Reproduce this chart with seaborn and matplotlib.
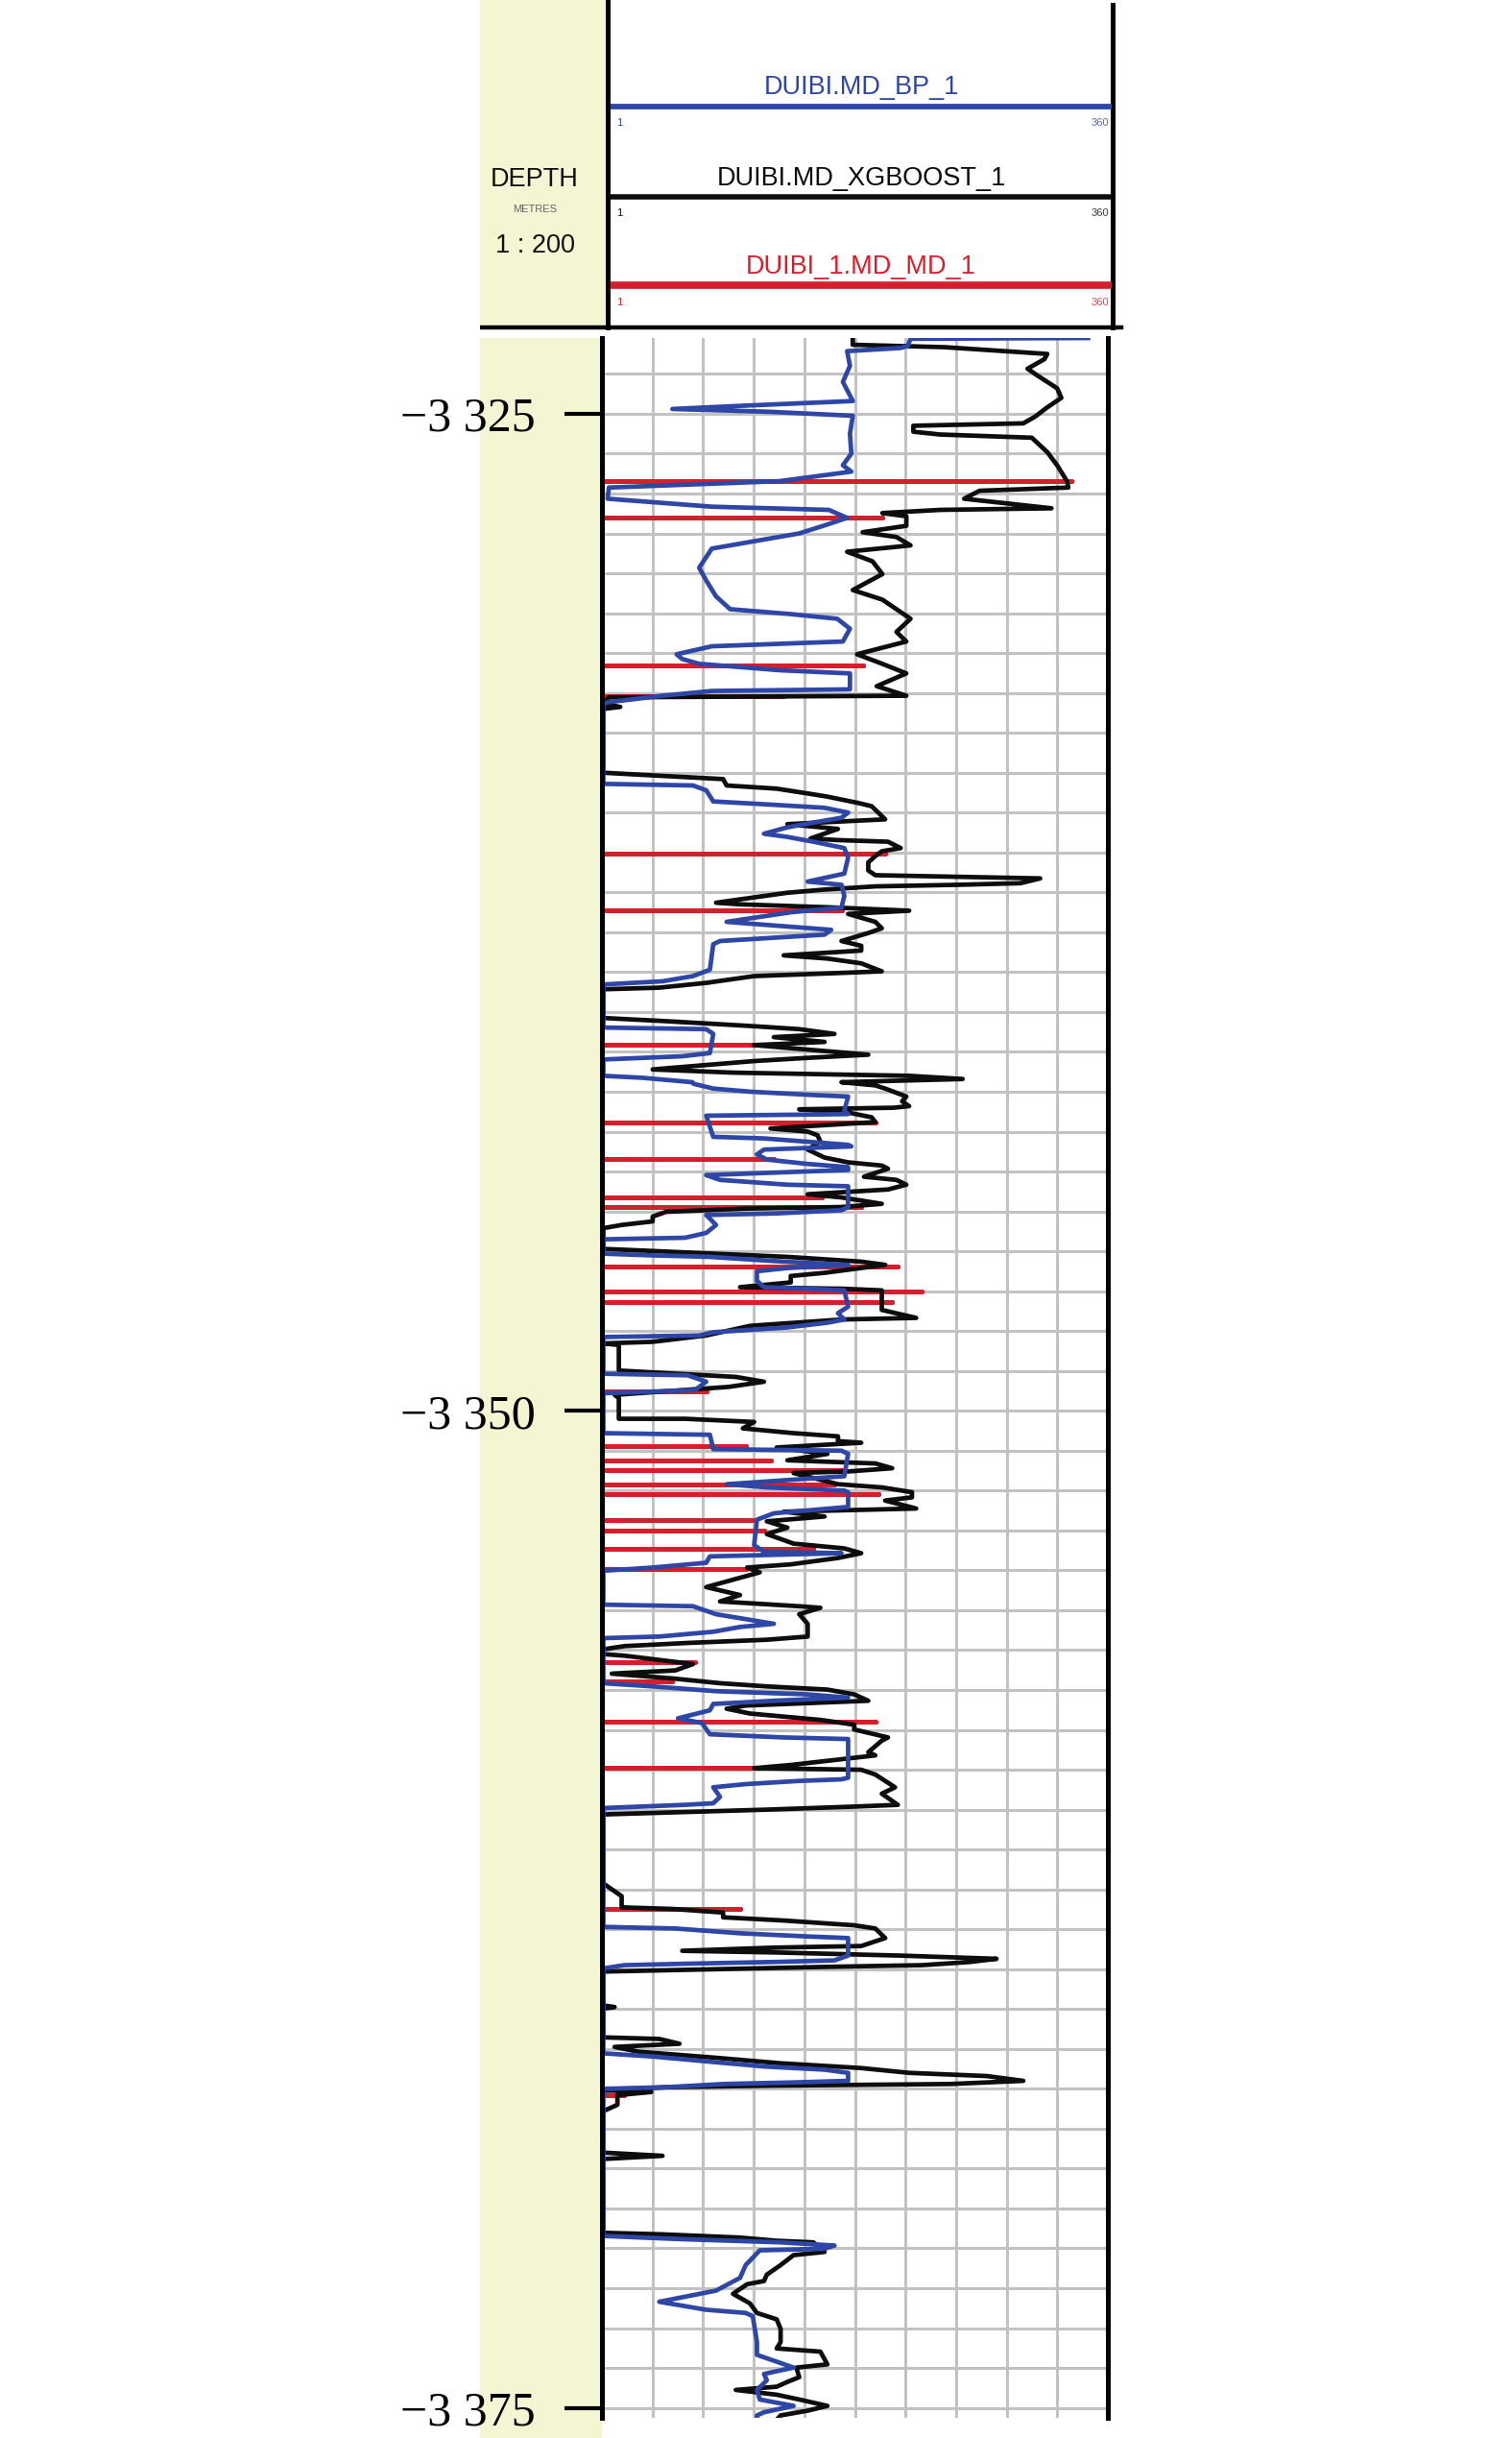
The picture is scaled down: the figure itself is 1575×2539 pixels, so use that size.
import numpy as np
import pandas as pd
import seaborn as sns
import matplotlib
matplotlib.use("Agg")
import matplotlib.pyplot as plt
from matplotlib.patches import Rectangle
from matplotlib.ticker import MultipleLocator
from matplotlib import font_manager

# ---- data: (depth in m, value on the 1..360 scale) ----
bp_curve = [
    (-3323.1, 346), (-3323.12, 220), (-3323.3, 218), (-3323.35, 213), (-3323.43, 175), (-3323.8, 177),
    (-3324.2, 172), (-3324.68, 179), (-3324.8, 100), (-3324.88, 51), (-3324.95, 120), (-3325.05, 179),
    (-3325.5, 177), (-3326.0, 178), (-3326.29, 172), (-3326.45, 178), (-3326.69, 127), (-3326.85, 6),
    (-3327.13, 5), (-3327.33, 79), (-3327.41, 162), (-3327.61, 175), (-3327.81, 158), (-3328.0, 141),
    (-3328.38, 79), (-3328.86, 70), (-3329.18, 75), (-3329.58, 82), (-3329.9, 92), (-3330.02, 134),
    (-3330.14, 168), (-3330.39, 177), (-3330.71, 172), (-3330.83, 79), (-3331.03, 54), (-3331.15, 58),
    (-3331.27, 70), (-3331.43, 127), (-3331.51, 177), (-3331.91, 177), (-3331.95, 79), (-3332.07, 44),
    (-3332.23, 6), (-3332.27, 2),
    (-3334.28, 2), (-3334.32, 65.6), (-3334.44, 75), (-3334.72, 80), (-3334.8, 120.6), (-3334.88, 159),
    (-3335.0, 175.7), (-3335.13, 171), (-3335.25, 151), (-3335.37, 132.6), (-3335.53, 116), (-3335.61, 132.6),
    (-3335.73, 151), (-3335.89, 173), (-3336.13, 175.7), (-3336.53, 173), (-3336.73, 147), (-3336.81, 171),
    (-3337.09, 173), (-3337.38, 171), (-3337.5, 135), (-3337.74, 89.5), (-3337.94, 163.7), (-3338.06, 159),
    (-3338.22, 84.8), (-3338.3, 80), (-3338.94, 77.6), (-3339.1, 65.6), (-3339.23, 44), (-3339.31, 2),
    (-3340.39, 2), (-3340.43, 75), (-3340.55, 80), (-3341.03, 77.6), (-3341.11, 58), (-3341.19, 2),
    (-3341.6, 2), (-3341.65, 30), (-3341.76, 65), (-3341.8, 66), (-3341.92, 80), (-3342.0, 107),
    (-3342.08, 150), (-3342.12, 175.7), (-3342.48, 173), (-3342.56, 175.7), (-3342.6, 75), (-3343.13, 80),
    (-3343.17, 116), (-3343.33, 175.7), (-3343.37, 178), (-3343.45, 116), (-3343.57, 111), (-3343.7, 118),
    (-3343.81, 147), (-3343.89, 175.7), (-3343.96, 175.7), (-3344.05, 106), (-3344.09, 75), (-3344.21, 84.8),
    (-3344.33, 132.6), (-3344.37, 175.7), (-3344.89, 175.7), (-3344.97, 171), (-3345.05, 125), (-3345.09, 75),
    (-3345.34, 82), (-3345.54, 75), (-3345.66, 60), (-3345.7, 2), (-3346.06, 2), (-3346.1, 34),
    (-3346.14, 77.6), (-3346.26, 130), (-3346.34, 175.7), (-3346.42, 132.6), (-3346.5, 111), (-3346.74, 111),
    (-3346.9, 116), (-3346.94, 147), (-3346.98, 173), (-3347.39, 175.7), (-3347.55, 168.5), (-3347.71, 173),
    (-3347.79, 161), (-3347.91, 132.6), (-3348.03, 80), (-3348.11, 70), (-3348.15, 2),
    (-3349.07, 2), (-3349.11, 62), (-3349.27, 75), (-3349.48, 67), (-3349.52, 34), (-3349.56, 2),
    (-3350.56, 2), (-3350.6, 77.6), (-3350.96, 80), (-3351.0, 171), (-3351.08, 175.7), (-3351.64, 173),
    (-3351.76, 123), (-3351.84, 89.5), (-3351.92, 118), (-3352.0, 173), (-3352.04, 175.7), (-3352.41, 175.7),
    (-3352.57, 123), (-3352.73, 111), (-3353.37, 109), (-3353.53, 116), (-3353.57, 171), (-3353.65, 77.6),
    (-3353.81, 75), (-3353.93, 37), (-3354.01, 2), (-3354.86, 2), (-3354.9, 65.6), (-3355.1, 82),
    (-3355.34, 123), (-3355.42, 99), (-3355.54, 80), (-3355.66, 41.7), (-3355.7, 2), (-3356.83, 2),
    (-3356.91, 37), (-3357.03, 82), (-3357.11, 147), (-3357.19, 175.7), (-3357.27, 123), (-3357.35, 80),
    (-3357.51, 77.6), (-3357.71, 55), (-3357.83, 72), (-3358.11, 77.6), (-3358.19, 130), (-3358.23, 175.7),
    (-3358.55, 175.7), (-3359.2, 175.7), (-3359.24, 171), (-3359.28, 141), (-3359.36, 103), (-3359.44, 80),
    (-3359.68, 84.8), (-3359.84, 80), (-3359.88, 60), (-3359.96, 2), (-3362.94, 2), (-3362.98, 53),
    (-3363.1, 99), (-3363.18, 147), (-3363.22, 175.7), (-3363.66, 175.7), (-3363.78, 166), (-3363.82, 123),
    (-3363.86, 65.6), (-3363.9, 17), (-3363.98, 2), (-3366.11, 2), (-3366.19, 37), (-3366.32, 77.6),
    (-3366.44, 116), (-3366.52, 159), (-3366.6, 175.7), (-3366.8, 175.7), (-3366.84, 137), (-3366.88, 87),
    (-3366.96, 46.5), (-3367.0, 2), (-3370.69, 2), (-3370.77, 58), (-3370.85, 127.8), (-3370.93, 166),
    (-3371.01, 159), (-3371.05, 113), (-3371.42, 103), (-3371.74, 99), (-3372.06, 82), (-3372.34, 41.7),
    (-3372.54, 75), (-3372.62, 103), (-3372.7, 108), (-3373.35, 111), (-3373.67, 111), (-3373.99, 137),
    (-3374.15, 116), (-3374.31, 118), (-3374.55, 111), (-3374.79, 113), (-3374.95, 137), (-3375.11, 116),
    (-3375.19, 111), (-3375.3, 111),
]

xgb_curve = [
    (-3323.1, 179), (-3323.27, 179), (-3323.33, 244), (-3323.5, 317), (-3323.63, 315), (-3323.87, 303),
    (-3324.04, 310), (-3324.36, 324), (-3324.6, 327), (-3324.84, 317), (-3325.08, 308), (-3325.24, 300),
    (-3325.3, 222), (-3325.45, 222), (-3325.52, 241), (-3325.6, 306), (-3325.96, 317), (-3326.29, 324),
    (-3326.69, 331), (-3326.85, 332), (-3326.93, 269), (-3327.13, 258), (-3327.25, 289), (-3327.37, 320),
    (-3327.41, 241), (-3327.49, 200), (-3327.57, 217), (-3327.81, 217), (-3327.97, 186), (-3328.09, 210),
    (-3328.3, 220), (-3328.46, 175), (-3328.7, 193), (-3329.02, 200), (-3329.42, 179), (-3329.66, 200),
    (-3329.9, 210), (-3330.14, 220), (-3330.47, 210), (-3330.71, 217), (-3331.03, 182), (-3331.27, 200),
    (-3331.51, 217), (-3331.83, 196), (-3332.07, 217), (-3332.11, 6), (-3332.27, 2), (-3332.35, 14),
    (-3332.4, 2),
    (-3334.0, 2), (-3334.04, 22.5), (-3334.12, 65.6), (-3334.16, 87), (-3334.32, 89.5), (-3334.4, 125),
    (-3334.52, 147), (-3334.6, 161), (-3334.76, 183), (-3334.84, 192.4), (-3335.17, 202), (-3335.21, 178),
    (-3335.29, 132.6), (-3335.41, 168.5), (-3335.65, 149), (-3335.69, 168.5), (-3335.73, 204), (-3335.89, 213),
    (-3335.97, 199.6), (-3336.09, 195), (-3336.25, 190), (-3336.45, 190), (-3336.57, 195), (-3336.61, 254.6),
    (-3336.65, 312), (-3336.77, 298), (-3336.81, 254.6), (-3336.85, 195), (-3336.93, 159), (-3337.01, 132.6),
    (-3337.26, 82), (-3337.3, 99), (-3337.38, 166), (-3337.46, 219), (-3337.54, 175.7), (-3337.74, 195),
    (-3337.9, 199.6), (-3338.02, 190), (-3338.22, 171), (-3338.34, 185), (-3338.46, 185), (-3338.58, 130),
    (-3338.66, 161), (-3338.78, 185), (-3338.98, 199.6), (-3339.02, 171), (-3339.1, 109), (-3339.27, 75),
    (-3339.39, 41.7), (-3339.43, 2), (-3340.15, 2), (-3340.23, 46.5), (-3340.35, 106), (-3340.43, 141),
    (-3340.55, 166), (-3340.63, 123), (-3340.75, 159), (-3340.83, 109), (-3341.07, 190), (-3341.15, 147),
    (-3341.23, 109), (-3341.44, 37), (-3341.52, 94), (-3341.6, 219), (-3341.68, 257), (-3341.76, 171),
    (-3341.84, 195), (-3341.92, 202), (-3342.12, 217), (-3342.24, 214), (-3342.36, 219), (-3342.4, 208),
    (-3342.44, 141), (-3342.52, 175.7), (-3342.64, 192.4), (-3342.76, 195), (-3342.92, 120.6), (-3343.0, 147),
    (-3343.09, 154), (-3343.25, 156), (-3343.45, 147), (-3343.65, 159), (-3343.77, 175.7), (-3343.85, 199.6),
    (-3343.93, 204), (-3344.13, 187), (-3344.21, 210), (-3344.33, 217), (-3344.45, 204), (-3344.57, 147),
    (-3344.65, 171), (-3344.81, 199.6), (-3344.89, 171), (-3344.93, 103), (-3345.01, 46.5), (-3345.13, 37),
    (-3345.25, 37), (-3345.34, 15), (-3345.42, 2), (-3345.94, 2), (-3345.98, 29), (-3346.14, 132.6),
    (-3346.26, 185), (-3346.34, 202), (-3346.54, 159), (-3346.62, 135), (-3346.78, 135), (-3346.9, 99),
    (-3346.94, 173), (-3346.98, 199.6), (-3347.47, 199.6), (-3347.67, 224), (-3347.71, 171), (-3347.87, 106),
    (-3348.11, 75), (-3348.27, 37), (-3348.31, 2), (-3348.35, 13), (-3348.99, 13), (-3349.15, 96),
    (-3349.27, 116), (-3349.4, 91), (-3349.6, 10), (-3349.68, 13), (-3350.2, 13), (-3350.2, 60),
    (-3350.28, 109), (-3350.44, 101), (-3350.56, 137), (-3350.64, 168.5), (-3350.76, 168.5), (-3350.8, 185),
    (-3350.92, 125), (-3351.08, 161), (-3351.24, 132.6), (-3351.32, 195), (-3351.44, 207), (-3351.52, 176),
    (-3351.56, 137), (-3351.84, 168.5), (-3351.92, 199.6), (-3352.04, 221), (-3352.17, 221), (-3352.25, 202),
    (-3352.45, 224), (-3352.49, 178), (-3352.53, 130), (-3352.65, 159), (-3352.77, 118), (-3352.93, 132.6),
    (-3353.09, 118), (-3353.33, 137), (-3353.45, 173), (-3353.57, 185), (-3353.69, 168.5), (-3353.85, 135),
    (-3353.93, 104), (-3354.05, 113), (-3354.42, 75), (-3354.62, 99), (-3354.78, 84.8), (-3354.9, 141),
    (-3354.94, 156), (-3355.1, 141), (-3355.34, 147), (-3355.46, 147), (-3355.66, 147), (-3355.74, 118),
    (-3355.82, 62), (-3355.9, 17), (-3355.98, 2), (-3356.1, 2), (-3356.14, 17), (-3356.35, 65.6),
    (-3356.51, 53), (-3356.59, 8), (-3356.71, 51), (-3356.83, 84.8), (-3356.91, 118), (-3356.99, 161),
    (-3357.11, 180), (-3357.27, 190), (-3357.39, 103), (-3357.47, 89.5), (-3357.59, 106), (-3357.75, 156),
    (-3357.87, 180), (-3357.99, 180), (-3358.19, 204), (-3358.27, 199.6), (-3358.56, 190), (-3358.64, 195),
    (-3358.88, 135), (-3358.96, 109), (-3359.0, 185), (-3359.12, 195), (-3359.44, 209), (-3359.6, 199.6),
    (-3359.88, 211), (-3359.92, 183), (-3360.0, 118), (-3360.08, 41.7), (-3360.12, 2), (-3361.85, 2),
    (-3362.17, 15), (-3362.45, 15), (-3362.49, 51), (-3362.58, 87), (-3362.7, 87), (-3362.78, 130),
    (-3362.9, 180), (-3362.98, 195), (-3363.22, 202), (-3363.42, 185), (-3363.46, 123), (-3363.54, 58),
    (-3363.58, 123), (-3363.66, 213), (-3363.74, 281), (-3363.82, 262), (-3363.9, 228), (-3363.94, 163.7),
    (-3364.02, 58), (-3364.06, 2), (-3364.91, 2), (-3364.95, 10), (-3364.99, 2), (-3365.71, 2),
    (-3365.75, 41.7), (-3365.87, 56), (-3365.95, 10), (-3366.07, 27), (-3366.23, 84.8), (-3366.36, 127.8),
    (-3366.44, 166), (-3366.48, 185), (-3366.6, 219), (-3366.68, 274), (-3366.8, 300), (-3366.88, 248),
    (-3366.92, 123), (-3366.96, 46.5), (-3367.04, 2), (-3367.08, 36), (-3367.16, 12), (-3367.4, 12),
    (-3367.56, 2), (-3368.6, 2), (-3368.68, 44), (-3368.76, 2), (-3370.61, 2), (-3370.65, 44),
    (-3370.73, 99), (-3370.81, 125), (-3370.85, 151), (-3371.09, 159), (-3371.17, 137), (-3371.42, 127.8),
    (-3371.66, 118), (-3371.82, 116), (-3371.9, 104), (-3372.14, 94), (-3372.38, 106), (-3372.62, 111),
    (-3372.78, 125), (-3373.02, 127.8), (-3373.35, 127.8), (-3373.51, 125), (-3373.59, 156), (-3373.91, 161),
    (-3373.99, 139), (-3374.23, 141), (-3374.35, 132.6), (-3374.47, 125), (-3374.55, 96), (-3374.67, 125),
    (-3374.79, 141), (-3374.95, 161), (-3375.07, 147), (-3375.19, 127.8), (-3375.3, 125),
]

# measured curve: sits on the left edge, with spikes at these depths
md_spike_depth = [-3326.69, -3327.6, -3331.31, -3332.07, -3336.03, -3337.46, -3340.83,
                  -3342.76, -3343.69, -3344.65, -3344.89, -3346.38, -3347.02, -3347.27, -3349.52,
                  -3350.88, -3351.24, -3351.48, -3351.84, -3352.09, -3352.73, -3353.01, -3353.45,
                  -3353.97, -3356.31, -3356.79, -3357.79, -3358.96, -3362.48, -3367.16]
md_spike_value = [334, 200, 186, 130, 202, 171, 109,
                  195, 123, 157, 185, 211, 228, 207, 75,
                  103, 120.6, 171, 166, 197, 110, 116, 151,
                  103, 67, 51, 195, 109, 99, 17]

track_min, track_max = 1, 360
depth_top, depth_bottom = -3323.1, -3375.25
depth_ticks = [-3325, -3350, -3375]
depth_labels = ["\u22123 325", "\u22123 350", "\u22123 375"]
curve_names = ["DUIBI.MD_BP_1", "DUIBI.MD_XGBOOST_1", "DUIBI_1.MD_MD_1"]

BLUE = "#2E47A6"
BLACK = "#0d0d0d"
RED = "#D61F2D"
YELLOW = "#F4F5D3"


def pick_font(names):
    for n in names:
        try:
            font_manager.findfont(n, fallback_to_default=False)
            return n
        except Exception:
            pass
    return "DejaVu Sans"


narrow = pick_font(["Liberation Sans Narrow", "Liberation Sans"])
serif = pick_font(["Liberation Serif", "DejaVu Serif"])

bp_df = pd.DataFrame(bp_curve, columns=["depth", "value"])
xgb_df = pd.DataFrame(xgb_curve, columns=["depth", "value"])
md_depth, md_value = [depth_top], [track_min]
for d, v in zip(md_spike_depth, md_spike_value):
    md_depth += [d, d, d]
    md_value += [track_min, v, track_min]
md_depth.append(depth_bottom)
md_value.append(track_min)
md_df = pd.DataFrame({"depth": md_depth, "value": md_value})

W, H = 1575, 2539
fig = plt.figure(figsize=(W / 100, H / 100), dpi=100)
fig.patch.set_facecolor("white")

# pale depth column
fig.add_artist(Rectangle((500 / W, 0), 127 / W, 1 - 352 / H, transform=fig.transFigure,
                         facecolor=YELLOW, edgecolor="none", zorder=-1))

# ---- log track ----
ax = fig.add_axes([627 / W, 1 - 2518 / H, (1154 - 627) / W, (2518 - 352) / H])
ax.set_axisbelow(True)
sns.lineplot(data=md_df, x="value", y="depth", sort=False, estimator=None,
             color=RED, lw=3.6, ax=ax, legend=False)
sns.lineplot(data=xgb_df, x="value", y="depth", sort=False, estimator=None,
             color=BLACK, lw=3.4, ax=ax, legend=False)
sns.lineplot(data=bp_df, x="value", y="depth", sort=False, estimator=None,
             color=BLUE, lw=3.4, ax=ax, legend=False)

ax.set_xlim(track_min, track_max)
ax.set_ylim(depth_bottom, depth_top)
ax.set_xticks(np.linspace(track_min, track_max, 11))
ax.set_xticklabels([])
ax.set_yticks(depth_ticks)
ax.set_yticklabels(depth_labels, fontfamily=serif, fontsize=36)
ax.yaxis.set_minor_locator(MultipleLocator(1))
ax.tick_params(axis="x", length=0)
ax.tick_params(axis="y", which="major", length=28, width=3, pad=22, direction="out", color="black")
ax.tick_params(axis="y", which="minor", length=0)
ax.grid(True, which="both", color="#C2C2C2", lw=2.2)
ax.set_xlabel("")
ax.set_ylabel("")
for side in ["top", "bottom"]:
    ax.spines[side].set_visible(False)
for side in ["left", "right"]:
    ax.spines[side].set_linewidth(3.6)
    ax.spines[side].set_color("black")

# ---- header ----
hx = fig.add_axes([500 / W, 1 - 344 / H, 672 / W, 344 / H])
hx.set_xlim(0, 672)
hx.set_ylim(344, 0)
hx.axis("off")
hx.add_patch(Rectangle((0, 0), 133, 341, facecolor=YELLOW, edgecolor="none"))
hx.plot([133, 133], [0, 341], color="black", lw=3.6)
hx.plot([659, 659], [5, 341], color="black", lw=3.6)
hx.plot([0, 668], [341, 341], color="black", lw=3.2)

rows = [(91, 111, 128), (186, 205, 222), (278, 297, 315)]
line_w = [4.2, 4.0, 5.5]
for name, col, (ty, ly, sy), lw in zip(curve_names, [BLUE, BLACK, RED], rows, line_w):
    hx.text(397, ty, name, color=col, fontsize=19.5, fontfamily=narrow,
            ha="center", va="center")
    hx.plot([136, 658], [ly, ly], color=col, lw=lw, solid_capstyle="butt")
    hx.text(142, sy, "1", color=col, fontsize=8, fontfamily=narrow, ha="left", va="center")
    hx.text(655, sy, "360", color=col, fontsize=8, fontfamily=narrow, ha="right", va="center", alpha=0.8)

hx.text(57, 187, "DEPTH", fontsize=19.5, fontfamily=narrow, ha="center", va="center", color="#111111")
hx.text(57, 218, "METRES", fontsize=8, fontfamily=narrow, ha="center", va="center", color="#666666")
hx.text(57, 256, "1 : 200", fontsize=19.5, fontfamily=narrow, ha="center", va="center", color="#111111")

fig.savefig("out.png", dpi=100, facecolor="white")
